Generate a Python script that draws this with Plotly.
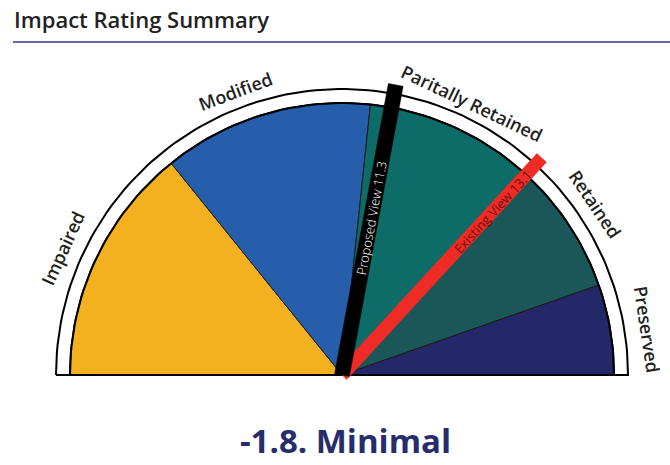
import numpy as np
import plotly.graph_objects as go

# ---------------- data ----------------
categories = ["Impaired", "Modified", "Paritally Retained", "Retained", "Preserved"]
sector_spans = [51.1, 44.9, 36.6, 28.1, 19.3]          # degrees, from left end of gauge
sector_colors = ["#F3B11F", "#275EAB", "#0D6C68", "#1B5659", "#252868"]
label_positions = [24.5, 69.5, 115.5, 146.0, 171.5]   # degrees, from left end of gauge
needle_labels = ["Existing View 13.1", "Proposed View 11.3"]
needle_positions = [132.6, 100.5]                     # degrees, from left end of gauge
needle_colors = ["#EE2B24", "#000000"]
needle_text_colors = ["#6E1010", "#FFFFFF"]
score_text = "-1.8. Minimal"
title_text = "Impact Rating Summary"

# ---------------- layout constants ----------------
W, H = 670, 465
CX, CY = 342, 375
R_IN, R_OUT, R_NEEDLE = 272, 286, 295
LABEL_R = [307, 303, 301, 305, 308]
NEEDLE_W = [13, 15]
NEEDLE_TEXT_R = [222, 160]
NEEDLE_TEXT_WEIGHT = [400, 300]
FONT = "Open Sans"


def pt(phi_deg, r):
    p = np.radians(phi_deg)
    return CX + r * np.cos(p), CY - r * np.sin(p)


def arc(phi0, phi1, r, n=120):
    ph = np.linspace(phi0, phi1, n)
    return CX + r * np.cos(np.radians(ph)), CY - r * np.sin(np.radians(ph))


fig = go.Figure()

# white outer band
ox, oy = arc(180, 0, R_OUT)
ix, iy = arc(0, 180, R_IN)
fig.add_trace(go.Scatter(x=list(ox) + list(ix) + [ox[0]], y=list(oy) + list(iy) + [oy[0]],
                         fill="toself", fillcolor="white", mode="lines",
                         line=dict(color="black", width=2), hoverinfo="skip", showlegend=False))

# sectors
start = 0.0
for cat, span, col in zip(categories, sector_spans, sector_colors):
    a0 = 180 - start
    a1 = 180 - (start + span)
    ax_, ay_ = arc(a0, a1, R_IN, 80)
    fig.add_trace(go.Scatter(x=[CX] + list(ax_) + [CX], y=[CY] + list(ay_) + [CY],
                             fill="toself", fillcolor=col, mode="lines",
                             line=dict(color="#1a1a1a", width=1), name=cat,
                             hoverinfo="skip", showlegend=False))
    start += span

# inner arc edge and baseline
ax_, ay_ = arc(180, 0, R_IN)
fig.add_trace(go.Scatter(x=ax_, y=ay_, mode="lines", line=dict(color="black", width=2),
                         hoverinfo="skip", showlegend=False))
fig.add_trace(go.Scatter(x=[CX - R_OUT, CX + R_OUT], y=[CY, CY], mode="lines",
                         line=dict(color="black", width=2), hoverinfo="skip", showlegend=False))

# needles
for pos, col, w in zip(needle_positions, needle_colors, NEEDLE_W):
    phi = np.radians(180 - pos)
    u = np.array([np.cos(phi), -np.sin(phi)])
    nrm = np.array([np.sin(phi), np.cos(phi)])
    c = np.array([CX, CY])
    pts = [c + nrm * w / 2, c + u * R_NEEDLE + nrm * w / 2,
           c + u * R_NEEDLE - nrm * w / 2, c - nrm * w / 2, c + nrm * w / 2]
    fig.add_trace(go.Scatter(x=[p[0] for p in pts], y=[p[1] for p in pts], fill="toself",
                             fillcolor=col, mode="lines", line=dict(color=col, width=0.5),
                             hoverinfo="skip", showlegend=False))

annotations = []
# category labels
for cat, lp, lr in zip(categories, label_positions, LABEL_R):
    phi = 180 - lp
    x, y = pt(phi, lr)
    annotations.append(dict(x=x, y=y, xref="x", yref="y", text=cat, showarrow=False,
                            textangle=90 - phi,
                            font=dict(family=FONT, size=18, color="#231F20", weight=600)))

# needle labels
for lab, pos, tc, tr, tw in zip(needle_labels, needle_positions, needle_text_colors,
                                NEEDLE_TEXT_R, NEEDLE_TEXT_WEIGHT):
    phi = 180 - pos
    x, y = pt(phi, tr)
    annotations.append(dict(x=x, y=y, xref="x", yref="y", text=lab, showarrow=False,
                            textangle=-phi,
                            font=dict(family=FONT, size=13, color=tc, weight=tw)))

# title and score
annotations.append(dict(x=12, y=19, xref="x", yref="y", text=title_text, showarrow=False,
                        xanchor="left", yanchor="middle",
                        font=dict(family=FONT, size=22, color="#222222", weight=600)))
annotations.append(dict(x=345, y=440, xref="x", yref="y", text=score_text, showarrow=False,
                        xanchor="center", yanchor="middle",
                        font=dict(family=FONT, size=33, color="#262D6C", weight=700)))

fig.update_layout(
    width=W, height=H, autosize=False,
    margin=dict(l=0, r=0, t=0, b=0),
    paper_bgcolor="white", plot_bgcolor="white",
    xaxis=dict(range=[0, W], visible=False, fixedrange=True),
    yaxis=dict(range=[H, 0], visible=False, fixedrange=True),
    annotations=annotations,
    shapes=[dict(type="line", xref="x", yref="y", x0=13, x1=W, y0=42, y1=42,
                 line=dict(color="#2B3990", width=1.5))],
)

fig.write_html("out.html", config={"displayModeBar": False},
               post_script="document.body.style.margin='0';document.body.style.overflow='hidden';")
